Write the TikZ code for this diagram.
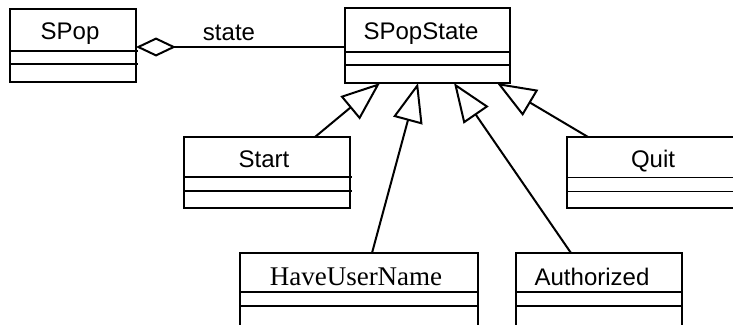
\documentclass[tikz,border=0pt]{standalone}
\usepackage{fontspec}
\setmainfont{Liberation Sans}
\newfontfamily\timesfont{Liberation Serif}
\usetikzlibrary{arrows.meta}
\begin{document}
\begin{tikzpicture}[x=1pt, y=-1pt, line width=2pt, line join=miter,
		font=\fontsize{24}{29}\selectfont,
		classname/.style={anchor=base, inner sep=0pt},
		inherit/.style={-{Triangle[open, length=39pt, width=30pt]}},
		aggr/.style={{Diamond[open, length=40pt, width=19pt]}-}]
	\useasboundingbox (0,0) rectangle (733,324);
	\clip (0,0) rectangle (733,324);
	% class boxes: name/left/top/right/bottom/divider/divider/divider end
	\foreach \n/\l/\t/\r/\b/\d/\e/\o in {spop/10/9/136/82/51/64/138, spopstate/345/8/510/83/52/65/510,
		start/184/137/350/208/177/191/352, haveusername/240/253/478/345/292/306/478,
		authorized/516/253/682/345/292/306/682}
	\draw (\l,\t) rectangle (\r,\b) (\l,\d) -- (\o,\d) (\l,\e) -- (\o,\e);
	\draw (567,137) rectangle (745,208);
	\draw[line width=1pt] (567,177) -- (745,177) (567,191) -- (745,191);
	% names
	\node[classname] (spop) at (70,39) {SPop};
	\node[classname] (spopstate) at (421,39) {SPopState};
	\node[classname] (state) at (229,40) {state};
	\node[classname] (start) at (264,167) {Start};
	\node[classname] (quit) at (653,167) {Quit};
	\node[classname, font=\timesfont\fontsize{27}{32}\selectfont] (haveusername) at (356,285) {HaveUserName};
	\node[classname] (authorized) at (592,285) {Authorized};
	% connector ends
	\path
	(136,47) coordinate (S)
	(345,47) coordinate (P)
	(315,137) coordinate (st)
	(372,253) coordinate (hu)
	(571,253) coordinate (au)
	(588,137) coordinate (qu)
	(380,83) coordinate (g1)
	(418,83) coordinate (g2)
	(454,83) coordinate (g3)
	(497,83) coordinate (g4)
	;
	\draw[aggr] (S)--(P);
	\foreach \c/\g in {st/g1,hu/g2,au/g3,qu/g4}
	\draw[inherit] (\c)--(\g);
\end{tikzpicture}
\end{document}
